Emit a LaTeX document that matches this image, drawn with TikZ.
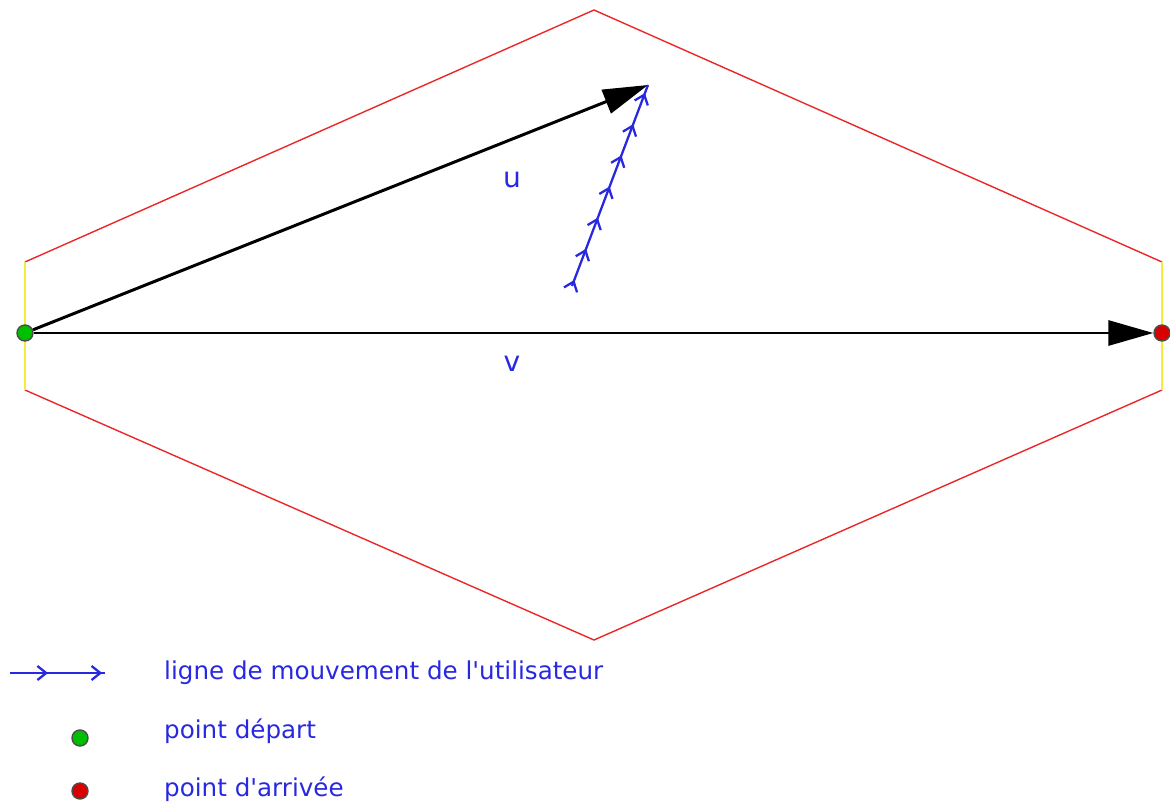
\documentclass[tikz,border=0pt]{standalone}
\usepackage{fontspec}
\setmainfont{DejaVu Sans}[Ligatures=TeXOff]
\usetikzlibrary{decorations.markings, arrows.meta}

\definecolor{textblue}{RGB}{40,40,225}
\definecolor{hexred}{RGB}{235,40,40}
\definecolor{hexyellow}{RGB}{245,235,60}

\begin{document}
\begin{tikzpicture}[x=0.02cm, y=-0.02cm,
    % big black vectors
    vecarrow/.style={line width=1.7pt, -{Triangle[length=0.9cm, width=0.5cm]}},
    % the user's path, with small arrows along it
    userline/.style={textblue, line width=1.3pt,
        decoration={markings, mark=between positions 0.03 and 1 step 0.155 with {\arrow{Straight Barb[length=5pt, width=8pt]}}},
        postaction={decorate}},
    pointdot/.style={circle, draw=black!70, line width=0.8pt, inner sep=0pt, minimum size=0.32cm},
    lbl/.style={text=textblue, font=\fontsize{14}{16}\selectfont, anchor=west}
]
\useasboundingbox (0,0) rectangle (1170,804);

% Define the corners of the hexagon
\coordinate (T) at (594,10);
\coordinate (UL) at (25,262);
\coordinate (LL) at (25,390);
\coordinate (B) at (594,640);
\coordinate (LR) at (1162,390);
\coordinate (UR) at (1162,262);

% Draw the hexagon
\draw[hexred, line width=0.8pt] (UL) -- (T) -- (UR);
\draw[hexred, line width=0.8pt] (LL) -- (B) -- (LR);
\draw[hexyellow, line width=0.9pt] (UL) -- (LL);
\draw[hexyellow, line width=0.9pt] (UR) -- (LR);

% Start and end points
\node[pointdot, fill=green!75!black] (start) at (25,333) {};
\node[pointdot, fill=red!85!black] (finish) at (1162,333) {};

% The vectors
\coordinate (tipU) at (648,85);
\draw[vecarrow] (start) -- (tipU);
\draw[vecarrow] (start) -- (finish);
\node[text=textblue, font=\fontsize{16}{18}\selectfont] (u) at (512,180) {u};
\node[text=textblue, font=\fontsize{16}{18}\selectfont] (v) at (512,364) {v};

% The user's movement
\coordinate (userA) at (572,286);
\draw[userline] (userA) -- (tipU);

% Legend
\coordinate (legA) at (10,673);
\coordinate (legB) at (105,673);
\draw[textblue, line width=1.3pt,
    decoration={markings, mark=at position 0.4 with {\arrow{Straight Barb[length=5pt, width=8pt]}},
        mark=at position 0.97 with {\arrow{Straight Barb[length=5pt, width=8pt]}}},
    postaction={decorate}] (legA) -- (legB);
\node[lbl] (moveText) at (158,673) {ligne de mouvement de l'utilisateur};
\node[pointdot, fill=green!75!black] (startKey) at (80,738) {};
\node[lbl] (startText) at (158,731) {point départ};
\node[pointdot, fill=red!85!black] (finishKey) at (80,791) {};
\node[lbl] (finishText) at (158,789) {point d'arrivée};

\end{tikzpicture}
\end{document}
